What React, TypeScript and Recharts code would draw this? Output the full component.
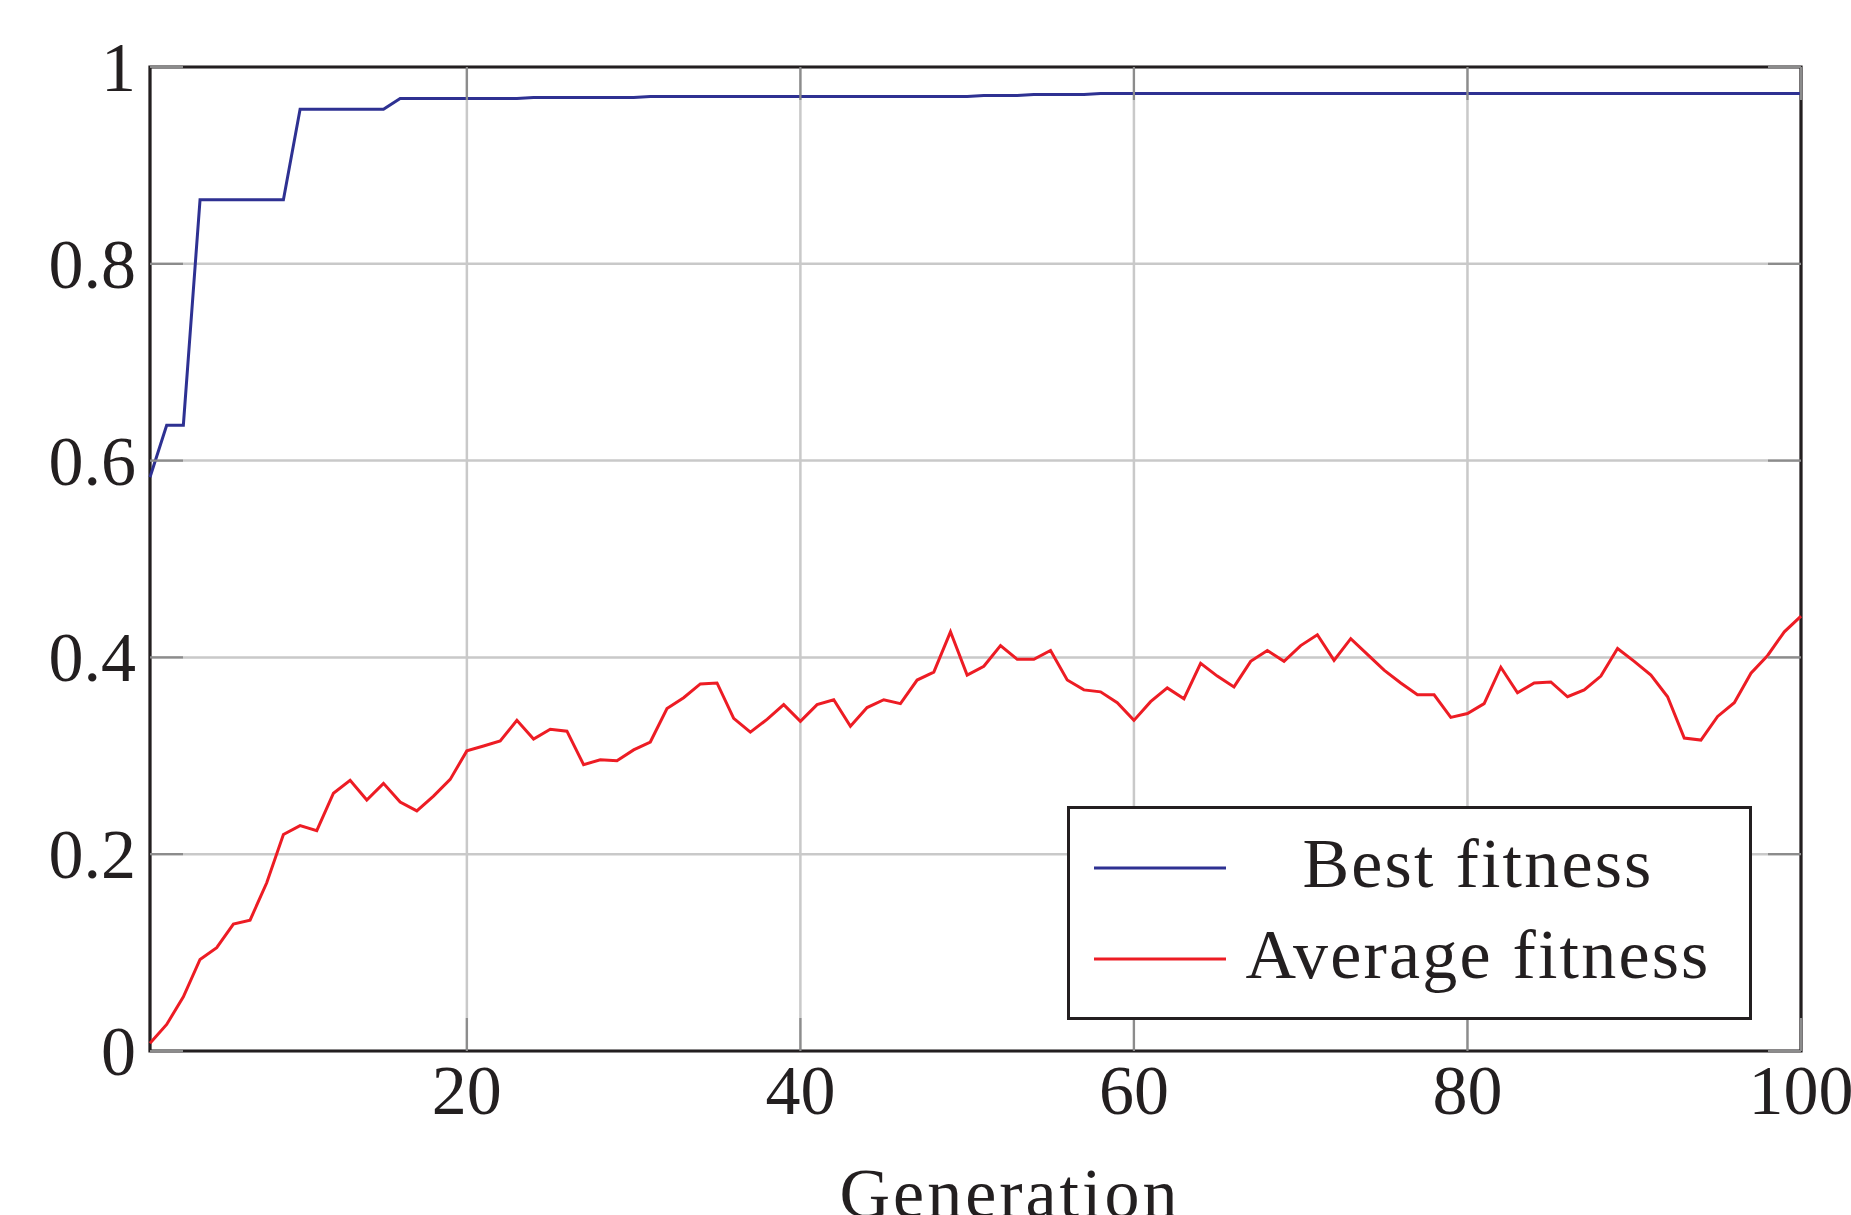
import React from "react";
import {
  LineChart,
  Line,
  XAxis,
  YAxis,
  CartesianGrid,
  Legend,
  ReferenceArea,
  Label,
} from "recharts";

// ---------------- data ----------------
const generations = [
  1, 2, 3, 4, 5, 6, 7, 8, 9, 10, 11, 12, 13, 14, 15, 16, 17, 18, 19, 20,
  21, 22, 23, 24, 25, 26, 27, 28, 29, 30, 31, 32, 33, 34, 35, 36, 37, 38, 39, 40,
  41, 42, 43, 44, 45, 46, 47, 48, 49, 50, 51, 52, 53, 54, 55, 56, 57, 58, 59, 60,
  61, 62, 63, 64, 65, 66, 67, 68, 69, 70, 71, 72, 73, 74, 75, 76, 77, 78, 79, 80,
  81, 82, 83, 84, 85, 86, 87, 88, 89, 90, 91, 92, 93, 94, 95, 96, 97, 98, 99, 100,
];

const bestFitness = [
  0.583, 0.636, 0.636, 0.865, 0.865, 0.865, 0.865, 0.865, 0.865, 0.957,
  0.957, 0.957, 0.957, 0.957, 0.957, 0.968, 0.968, 0.968, 0.968, 0.968,
  0.968, 0.968, 0.968, 0.969, 0.969, 0.969, 0.969, 0.969, 0.969, 0.969,
  0.97, 0.97, 0.97, 0.97, 0.97, 0.97, 0.97, 0.97, 0.97, 0.97,
  0.97, 0.97, 0.97, 0.97, 0.97, 0.97, 0.97, 0.97, 0.97, 0.97,
  0.971, 0.971, 0.971, 0.972, 0.972, 0.972, 0.972, 0.973, 0.973, 0.973,
  0.973, 0.973, 0.973, 0.973, 0.973, 0.973, 0.973, 0.973, 0.973, 0.973,
  0.973, 0.973, 0.973, 0.973, 0.973, 0.973, 0.973, 0.973, 0.973, 0.973,
  0.973, 0.973, 0.973, 0.973, 0.973, 0.973, 0.973, 0.973, 0.973, 0.973,
  0.973, 0.973, 0.973, 0.973, 0.973, 0.973, 0.973, 0.973, 0.973, 0.973,
];

const averageFitness = [
  0.008, 0.027, 0.055, 0.093, 0.105, 0.129, 0.133, 0.171, 0.22, 0.229,
  0.224, 0.262, 0.275, 0.255, 0.272, 0.253, 0.244, 0.259, 0.276, 0.305,
  0.31, 0.315, 0.336, 0.317, 0.327, 0.325, 0.291, 0.296, 0.295, 0.306,
  0.314, 0.348, 0.359, 0.373, 0.374, 0.338, 0.324, 0.337, 0.352, 0.335,
  0.352, 0.357, 0.33, 0.349, 0.357, 0.353, 0.377, 0.385, 0.426, 0.382,
  0.391, 0.412, 0.398, 0.398, 0.407, 0.377, 0.367, 0.365, 0.354, 0.336,
  0.355, 0.369, 0.358, 0.394, 0.381, 0.37, 0.396, 0.407, 0.396, 0.412,
  0.423, 0.397, 0.419, 0.403, 0.387, 0.374, 0.362, 0.362, 0.339, 0.343,
  0.353, 0.39, 0.364, 0.374, 0.375, 0.36, 0.367, 0.381, 0.409, 0.396,
  0.382, 0.36, 0.318, 0.316, 0.34, 0.354, 0.384, 0.402, 0.426, 0.442,
];

const xTicks = [20, 40, 60, 80, 100];
const yTicks = [0, 0.2, 0.4, 0.6, 0.8, 1];
const seriesNames = ["Best fitness", "Average fitness"];
const xLabel = "Generation";

const data = generations.map((g, i) => ({
  gen: g,
  best: bestFitness[i],
  avg: averageFitness[i],
}));

// ---------------- layout / style ----------------
const W = 1851;
const H = 1215;
const PLOT = { left: 150, right: 1801, top: 67, bottom: 1051 };
const FONT = "'Liberation Serif', 'Times New Roman', serif";
const TEXT = "#231f20";
const BLUE = "#2e3192";
const RED = "#ed1c24";
const GRID = "#c9c9c9";
const TICKMARK = "#8c8c8c";
const TICK_LEN = 33;
const FS = 70;
const LINE_W = 3;

const XTick = (props: any) => {
  const { x, payload } = props;
  return (
    <g>
      <line x1={x} x2={x} y1={PLOT.bottom} y2={PLOT.bottom - TICK_LEN} stroke={TICKMARK} strokeWidth={2.2} />
      <line x1={x} x2={x} y1={PLOT.top} y2={PLOT.top + TICK_LEN} stroke={TICKMARK} strokeWidth={2.2} />
      <text x={x} y={PLOT.bottom + 63} textAnchor="middle" fontSize={FS} fontFamily={FONT} fill={TEXT}>
        {payload.value}
      </text>
    </g>
  );
};

const YTick = (props: any) => {
  const { y, payload } = props;
  return (
    <g>
      <line x1={PLOT.left} x2={PLOT.left + TICK_LEN} y1={y} y2={y} stroke={TICKMARK} strokeWidth={2.2} />
      <line x1={PLOT.right} x2={PLOT.right - TICK_LEN} y1={y} y2={y} stroke={TICKMARK} strokeWidth={2.2} />
      <text x={PLOT.left - 14} y={y + 24} textAnchor="end" fontSize={FS} fontFamily={FONT} fill={TEXT}>
        {payload.value}
      </text>
    </g>
  );
};

const renderLegend = (props: any) => {
  const payload = (props.payload || []).slice().sort(
    (a: any, b: any) => seriesNames.indexOf(a.value) - seriesNames.indexOf(b.value)
  );
  const rowsY = [62, 153];
  return (
    <svg width={685} height={214} style={{ display: "block" }}>
      <rect x={1.5} y={1.5} width={682} height={211} fill="#fff" stroke={TEXT} strokeWidth={3} />
      {payload.map((p: any, i: number) => (
        <g key={p.value}>
          <line x1={27} x2={159} y1={rowsY[i]} y2={rowsY[i]} stroke={p.color} strokeWidth={LINE_W} />
          <text
            x={411}
            y={rowsY[i] + 19}
            textAnchor="middle"
            fontSize={FS}
            fontFamily={FONT}
            fill={TEXT}
            letterSpacing={2.2}
          >
            {p.value}
          </text>
        </g>
      ))}
    </svg>
  );
};

export default function App() {
  return (
    <div style={{ position: "absolute", left: 0, top: 0, width: W, height: H, background: "#fff" }}>
      <LineChart
        width={W}
        height={H}
        data={data}
        margin={{ top: PLOT.top, right: W - PLOT.right, bottom: 0, left: 0 }}
      >
        <CartesianGrid stroke={GRID} strokeWidth={2.5} />
        <XAxis
          dataKey="gen"
          type="number"
          domain={[1, 100]}
          ticks={xTicks}
          interval={0}
          height={H - PLOT.bottom}
          axisLine={false}
          tickLine={false}
          tickSize={0}
          tick={<XTick />}
        >
          <Label
            content={() => (
              <text
                x={1010}
                y={1217}
                textAnchor="middle"
                fontSize={FS}
                fontFamily={FONT}
                fill={TEXT}
                letterSpacing={3}
              >
                {xLabel}
              </text>
            )}
          />
        </XAxis>
        <YAxis
          type="number"
          domain={[0, 1]}
          ticks={yTicks}
          interval={0}
          width={PLOT.left}
          axisLine={false}
          tickLine={false}
          tickSize={0}
          tick={<YTick />}
        />
        <ReferenceArea
          x1={1}
          x2={100}
          y1={0}
          y2={1}
          fill="none"
          fillOpacity={0}
          stroke={TEXT}
          strokeWidth={3.2}
          ifOverflow="visible"
        />
        <Line
          type="linear"
          dataKey="best"
          name={seriesNames[0]}
          stroke={BLUE}
          strokeWidth={LINE_W}
          dot={false}
          activeDot={false}
          isAnimationActive={false}
        />
        <Line
          type="linear"
          dataKey="avg"
          name={seriesNames[1]}
          stroke={RED}
          strokeWidth={LINE_W}
          dot={false}
          activeDot={false}
          isAnimationActive={false}
        />
        <Legend
          layout="horizontal"
          verticalAlign="middle"
          align="center"
          content={renderLegend}
          wrapperStyle={{ left: 1067, top: 806, width: 685, height: 214 }}
        />
      </LineChart>
    </div>
  );
}
